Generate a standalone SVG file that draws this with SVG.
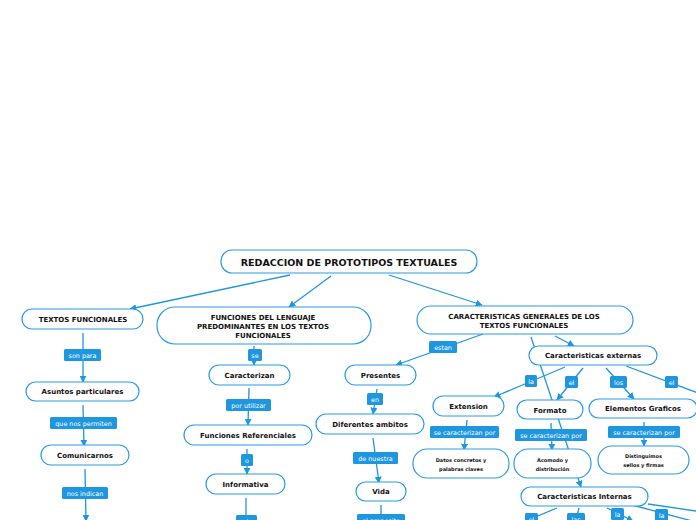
<svg xmlns="http://www.w3.org/2000/svg" width="696" height="520" viewBox="0 0 696 520">
<defs>
<marker id="ah" viewBox="0 0 10 10" refX="9" refY="5" markerWidth="7" markerHeight="7" markerUnits="userSpaceOnUse" orient="auto">
<path d="M0,0 L10,5 L0,10 z" fill="#1e96e0"/>
</marker>
<style>
.c{stroke:#1e96e0;stroke-width:1.3;fill:none}
.a{marker-end:url(#ah)}
.n rect{fill:#fff;stroke:#2a9be6;stroke-width:1.2}
.n text{font-family:"DejaVu Sans",Verdana,sans-serif;font-weight:bold;fill:#111;text-anchor:middle;font-size:7px}
.l rect{fill:#1e96e0}
.l text{font-family:"DejaVu Sans",Verdana,sans-serif;fill:#fff;text-anchor:middle;font-size:6.4px}
.s text{font-size:5px}
</style>
</defs>
<rect width="696" height="520" fill="#fff"/>
<g id="connectors">
<line class="c a" x1="290" y1="275" x2="130" y2="309"/>
<line class="c a" x1="331" y1="276" x2="289" y2="307"/>
<line class="c a" x1="389" y1="275" x2="482" y2="305"/>
<line class="c a" x1="83" y1="333" x2="83" y2="382"/>
<line class="c a" x1="83" y1="405" x2="84" y2="446"/>
<line class="c a" x1="85" y1="469" x2="86" y2="521"/>
<line class="c a" x1="254" y1="346" x2="254" y2="365"/>
<line class="c a" x1="249" y1="388" x2="248" y2="425"/>
<line class="c a" x1="247" y1="449" x2="247" y2="474"/>
<line class="c" x1="246" y1="498" x2="246" y2="520"/>
<line class="c a" x1="483" y1="334" x2="396" y2="365"/>
<line class="c a" x1="377" y1="389" x2="373" y2="414"/>
<line class="c a" x1="373" y1="438" x2="379" y2="483"/>
<line class="c" x1="381" y1="505" x2="381" y2="520"/>
<line class="c a" x1="555" y1="336" x2="574" y2="346"/>
<line class="c a" x1="531" y1="337" x2="581" y2="487"/>
<line class="c a" x1="565" y1="367" x2="494" y2="397"/>
<line class="c a" x1="583" y1="368" x2="557" y2="400"/>
<line class="c a" x1="606" y1="368" x2="634" y2="399"/>
<line class="c" x1="626" y1="366" x2="698" y2="393"/>
<line class="c a" x1="467" y1="420" x2="464" y2="450"/>
<line class="c a" x1="551" y1="423" x2="552" y2="450"/>
<line class="c a" x1="644" y1="422" x2="644" y2="446"/>
<line class="c" x1="557" y1="508" x2="528" y2="520"/>
<line class="c" x1="579" y1="508" x2="576" y2="520"/>
<line class="c a" x1="607" y1="508" x2="633" y2="521"/>
<line class="c" x1="632" y1="505" x2="696" y2="522"/>
<line class="c" x1="648" y1="504" x2="696" y2="511"/>
</g>
<g id="labels">
<g class="l"><rect x="64" y="349" width="37" height="12" rx="1.5"/><text x="82.5" y="357.5">son para</text></g>
<g class="l"><rect x="50" y="417" width="67" height="12" rx="1.5"/><text x="83.5" y="425.5">que nos permiten</text></g>
<g class="l"><rect x="62" y="487" width="46" height="12" rx="1.5"/><text x="85" y="495.5">nos indican</text></g>
<g class="l"><rect x="248" y="349" width="14" height="12" rx="1.5"/><text x="255" y="357.5">se</text></g>
<g class="l"><rect x="226" y="399" width="45" height="12" rx="1.5"/><text x="248.5" y="407.5">por utilizar</text></g>
<g class="l"><rect x="241" y="454" width="12" height="12" rx="1.5"/><text x="247" y="462.5">o</text></g>
<g class="l"><rect x="236" y="515" width="21" height="12" rx="1.5"/><text x="246.5" y="523.5">y la</text></g>
<g class="l"><rect x="429" y="341" width="28" height="12" rx="1.5"/><text x="443" y="349.5">estan</text></g>
<g class="l"><rect x="367" y="393" width="16" height="12" rx="1.5"/><text x="375" y="401.5">en</text></g>
<g class="l"><rect x="353" y="452" width="45" height="12" rx="1.5"/><text x="375.5" y="460.5">de nuestra</text></g>
<g class="l"><rect x="357" y="514" width="48" height="12" rx="1.5"/><text x="381" y="522.5">el proposito</text></g>
<g class="l"><rect x="525" y="375" width="12" height="12" rx="1.5"/><text x="531" y="383.5">la</text></g>
<g class="l"><rect x="565" y="376" width="13" height="12" rx="1.5"/><text x="571.5" y="384.5">el</text></g>
<g class="l"><rect x="610" y="376" width="17" height="12" rx="1.5"/><text x="618.5" y="384.5">los</text></g>
<g class="l"><rect x="665" y="376" width="13" height="12" rx="1.5"/><text x="671.5" y="384.5">el</text></g>
<g class="l"><rect x="430" y="426" width="69" height="12" rx="1.5"/><text x="464.5" y="434.5">se caracterizan por</text></g>
<g class="l"><rect x="515" y="429" width="72" height="12" rx="1.5"/><text x="551" y="437.5">se caracterizan por</text></g>
<g class="l"><rect x="608" y="426" width="72" height="12" rx="1.5"/><text x="644" y="434.5">se caracterizan por</text></g>
<g class="l"><rect x="525" y="513" width="13" height="12" rx="1.5"/><text x="531.5" y="521.5">el</text></g>
<g class="l"><rect x="567" y="513" width="18" height="12" rx="1.5"/><text x="576" y="521.5">las</text></g>
<g class="l"><rect x="611" y="508" width="13" height="12" rx="1.5"/><text x="617.5" y="516.5">la</text></g>
<g class="l"><rect x="655" y="509" width="13" height="12" rx="1.5"/><text x="661.5" y="517.5">la</text></g>
</g>
<g id="root" class="n"><rect x="221" y="250" width="256" height="23" rx="11"/><text x="349" y="265.5" style="font-size:9.5px">REDACCION DE PROTOTIPOS TEXTUALES</text></g>
<g id="textos-funcionales" class="n"><rect x="22" y="309" width="121" height="20" rx="10"/><text x="83" y="321.5">TEXTOS FUNCIONALES</text></g>
<g id="funciones-lenguaje" class="n"><rect x="157" y="307" width="214" height="37" rx="18"/><text x="263" y="319.5">FUNCIONES DEL LENGUAJE</text><text x="263" y="328.5">PREDOMINANTES EN LOS TEXTOS</text><text x="263" y="337.5">FUNCIONALES</text></g>
<g id="caracteristicas-generales" class="n"><rect x="417" y="306" width="216" height="28" rx="14"/><text x="524" y="318.5">CARACTERISTICAS GENERALES DE LOS</text><text x="524" y="327.5">TEXTOS FUNCIONALES</text></g>
<g id="asuntos" class="n"><rect x="26" y="382" width="113" height="19" rx="9.5"/><text x="82.5" y="394">Asuntos particulares</text></g>
<g id="comunicarnos" class="n"><rect x="41" y="445" width="88" height="20" rx="10"/><text x="85" y="457.5">Comunicarnos</text></g>
<g id="caracterizan" class="n"><rect x="209" y="365" width="81" height="20" rx="10"/><text x="249.5" y="377.5">Caracterizan</text></g>
<g id="funciones-referenciales" class="n"><rect x="184" y="425" width="128" height="20" rx="10"/><text x="248" y="437.5">Funciones Referenciales</text></g>
<g id="informativa" class="n"><rect x="206" y="474" width="79" height="20" rx="10"/><text x="245.5" y="486.5">Informativa</text></g>
<g id="presentes" class="n"><rect x="345" y="365" width="71" height="20" rx="10"/><text x="380.5" y="377.5">Presentes</text></g>
<g id="diferentes-ambitos" class="n"><rect x="316" y="414" width="108" height="20" rx="10"/><text x="370" y="426.5">Diferentes ambitos</text></g>
<g id="vida" class="n"><rect x="356" y="482" width="50" height="19" rx="9.5"/><text x="381" y="494">Vida</text></g>
<g id="caracteristicas-externas" class="n"><rect x="529" y="346" width="128" height="19" rx="9.5"/><text x="593" y="358">Caracteristicas externas</text></g>
<g id="extension" class="n"><rect x="433" y="396" width="71" height="20" rx="10"/><text x="468.5" y="408.5">Extension</text></g>
<g id="formato" class="n"><rect x="517" y="400" width="66" height="19" rx="9.5"/><text x="550" y="412.5">Formato</text></g>
<g id="elementos-graficos" class="n"><rect x="589" y="399" width="108" height="19" rx="9.5"/><text x="643" y="411">Elementos Graficos</text></g>
<g id="datos" class="n s"><rect x="413" y="449" width="96" height="29" rx="14"/><text x="461" y="462">Datos concretos y</text><text x="461" y="471">palabras claves</text></g>
<g id="acomodo" class="n s"><rect x="514" y="449" width="77" height="29" rx="14"/><text x="552.5" y="462">Acomodo y</text><text x="552.5" y="471">distribución</text></g>
<g id="distinguimos" class="n s"><rect x="598" y="446" width="91" height="28" rx="14"/><text x="643.5" y="458">Distinguimos</text><text x="643.5" y="467">sellos y firmas</text></g>
<g id="caracteristicas-internas" class="n"><rect x="521" y="487" width="127" height="19" rx="9.5"/><text x="584.5" y="499">Caracteristicas Internas</text></g>
</svg>
